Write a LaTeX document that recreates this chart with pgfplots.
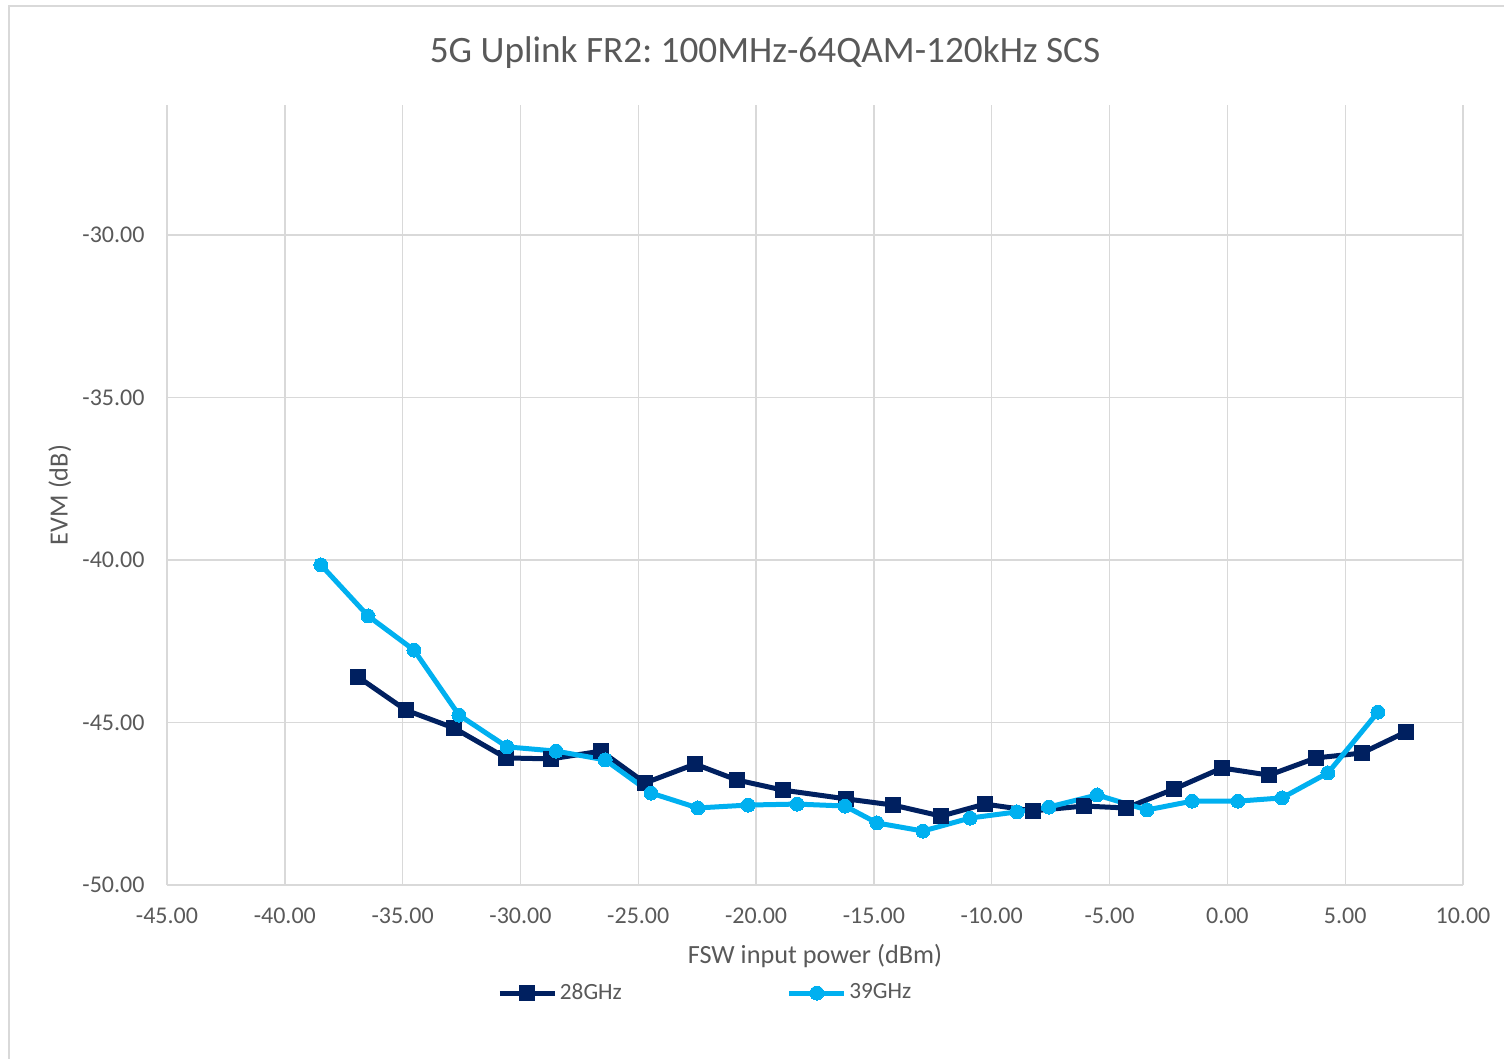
\documentclass[border=0pt]{standalone}
\usepackage{fontspec}
\setmainfont{Carlito}
\usepackage{pgfplots}
\pgfplotsset{compat=1.18}
\definecolor{navy}{HTML}{002060}
\definecolor{lblue}{HTML}{00B0F0}
\definecolor{txt}{HTML}{595959}
\definecolor{grd}{HTML}{D9D9D9}
\frenchspacing
\begin{document}
\begin{tikzpicture}
\useasboundingbox (0pt,0pt) rectangle (601.6pt,423.2pt);
\draw[grd, line width=0.8pt] (3.4pt,-20pt) rectangle (640pt,420.6pt);
\begin{axis}[
  at={(66.8pt,69.2pt)}, anchor=south west,
  scale only axis, width=518.4pt, height=312pt,
  xmin=-45, xmax=10, ymin=-50, ymax=-26,
  xtick={-45,-40,...,10}, ytick={-50,-45,...,-30},
  grid=major,
  grid style={grd, line width=0.55pt},
  axis line style={draw=none},
  major tick length=0pt,
  /pgf/number format/.cd, fixed, fixed zerofill, precision=2, assume math mode=true,
  /pgfplots/.cd,
  ticklabel style={font=\fontsize{9.6}{11.5}\selectfont, text=txt},
  xticklabel style={anchor=center, inner sep=0pt, yshift=-12.4pt},
  yticklabel style={anchor=east, inner sep=0pt, xshift=-8.8pt},
  xlabel={FSW input power (dBm)},
  ylabel={EVM (dB)},
  xlabel style={at={(axis description cs:0.5,-0.091)}, anchor=center, font=\fontsize{10.5}{12.6}\selectfont, text=txt},
  ylabel style={at={(axis description cs:-0.0826,0.5)}, anchor=center, font=\fontsize{10.5}{12.6}\selectfont, text=txt},
  title={5G Uplink FR2: 100MHz-64QAM-120kHz SCS},
  every axis title shift=0pt,
  title style={at={(axis description cs:0.4614,1.0667)}, anchor=center, font=\fontsize{14.9}{17}\selectfont, text=txt},
  legend columns=2,
  legend style={at={(axis description cs:0.2546,-0.1385)}, anchor=west, draw=none, fill=none,
    inner sep=0pt, nodes={inner xsep=1pt, inner ysep=0pt},
    font=\fontsize{9.3}{11}\selectfont, text=txt,
    /tikz/every even column/.append style={column sep=65pt}},
  legend cell align=left,
  legend image code/.code={\draw[mark repeat=2,mark phase=2,#1] plot coordinates {(0pt,0pt) (11pt,0pt) (22pt,0pt)};},
]
\addplot[navy, line width=2pt, line join=round, mark=square*, mark size=3pt, mark options={solid, fill=navy, draw=navy, line width=0pt}] coordinates {
(-36.89,-43.60) (-34.86,-44.62) (-32.82,-45.17) (-30.61,-46.09) (-28.70,-46.12)
(-26.58,-45.88) (-24.71,-46.86) (-22.59,-46.28) (-20.81,-46.77) (-18.86,-47.08)
(-16.18,-47.35) (-14.19,-47.54) (-12.15,-47.88) (-10.29,-47.51) (-8.25,-47.72)
(-6.08,-47.57) (-4.30,-47.63) (-2.27,-47.05) (-0.23,-46.40) (1.77,-46.62)
(3.76,-46.09) (5.71,-45.94) (7.58,-45.29)
};
\addlegendentry{28GHz}
\addplot[lblue, line width=2pt, line join=round, mark=*, mark size=2.8pt, mark options={solid, fill=lblue, draw=lblue, line width=0pt}] coordinates {
(-38.47,-40.15) (-36.47,-41.72) (-34.52,-42.77) (-32.61,-44.77) (-30.57,-45.75)
(-28.49,-45.88) (-26.41,-46.15) (-24.46,-47.17) (-22.47,-47.63) (-20.34,-47.54)
(-18.26,-47.51) (-16.23,-47.57) (-14.87,-48.09) (-12.92,-48.34) (-10.92,-47.94)
(-8.93,-47.75) (-7.57,-47.60) (-5.53,-47.23) (-3.41,-47.69) (-1.50,-47.42)
(0.45,-47.42) (2.32,-47.32) (4.27,-46.55) (6.39,-44.68)
};
\addlegendentry{39GHz}
\end{axis}
\end{tikzpicture}
\end{document}
